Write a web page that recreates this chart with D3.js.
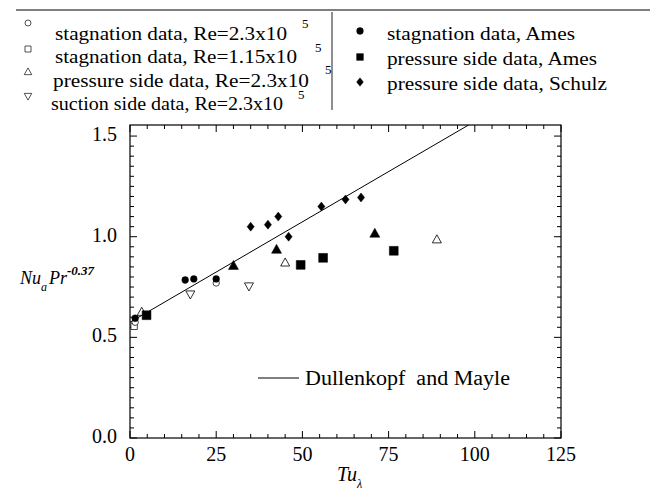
<!DOCTYPE html>
<html><head><meta charset="utf-8">
<script src="https://cdn.jsdelivr.net/npm/d3@7"></script>
<style>body{margin:0;background:#fff}svg{display:block}</style>
</head><body>
<svg id="c" width="650" height="491" font-family="Liberation Serif, DejaVu Serif, Times New Roman, serif"></svg>
<script>
// ---- data (Tu_lambda, Nu_a Pr^-0.37) ----
const stagOpen23 = [[1.5, 0.575], [25, 0.77]];          // open circle
const stagOpen115 = [[1.2, 0.555]];                      // open square
const pressOpen23 = [[3.4, 0.625], [45, 0.87], [89, 0.985]]; // open triangle up
const suctOpen23 = [[17.5, 0.715], [34.5, 0.755]];       // open triangle down
const stagAmes = [[1.5, 0.595], [16, 0.785], [18.5, 0.79], [25, 0.79]]; // filled circle
const pressAmes = [[4.8, 0.61], [49.5, 0.86], [56, 0.895], [76.5, 0.93]]; // filled square
const pressSchulz = [[35, 1.05], [40, 1.06], [43, 1.10], [46, 1.00], [55.5, 1.15], [62.5, 1.185], [67, 1.195]]; // filled diamond
const extraFilledTri = [[30, 0.855], [42.5, 0.935], [71, 1.015]]; // filled triangle (not in legend)
const correlation = [[0, 0.575], [98.5, 1.558]];         // Dullenkopf and Mayle
const xTicks = [0, 25, 50, 75, 100, 125];
const yTicks = [0.0, 0.5, 1.0, 1.5];
const yTickLabels = ["0.0", "0.5", "1.0", "1.5"];
const legendLeft = [
  ["circle", false, "stagnation data, Re=2.3x10"],
  ["square", false, "stagnation data, Re=1.15x10"],
  ["triUp", false, "pressure side data, Re=2.3x10"],
  ["triDown", false, "suction side data, Re=2.3x10"]
];
const legendRight = [
  ["circle", true, "stagnation data, Ames"],
  ["square", true, "pressure side data, Ames"],
  ["diamond", true, "pressure side data, Schulz"]
];

// ---- layout ----
const svg = d3.select("#c");
const L = 130, R = 561, B = 438, T = 125;
const x = d3.scaleLinear().domain([0, 125]).range([L, R]);
const y = d3.scaleLinear().domain([0, 1.555]).range([B, T]);

function symbolPath(type) {
  switch (type) {
    case "circle": return d3.symbol(d3.symbolCircle, 50)();
    case "square": return d3.symbol(d3.symbolSquare, 64)();
    case "diamond": return "M0,-5L4,0L0,5L-4,0Z";
    case "triUp": return "M0,-5.5L5,3.5L-5,3.5Z";
    case "triDown": return "M0,5.5L5,-3.5L-5,-3.5Z";
  }
}
function drawMarker(g, type, filled, cx, cy, scale) {
  const s = scale || 1;
  g.append("path").attr("d", symbolPath(type))
    .attr("transform", `translate(${cx},${cy}) scale(${s})`)
    .attr("fill", filled ? "#000" : "#fff")
    .attr("stroke", "#000").attr("stroke-width", filled ? 0.5 : 0.9);
}

// top rule
svg.append("line").attr("x1", 16).attr("x2", 650).attr("y1", 10).attr("y2", 10)
  .attr("stroke", "#555").attr("stroke-width", 1.3);
// separator
svg.append("line").attr("x1", 332).attr("x2", 332).attr("y1", 12).attr("y2", 110)
  .attr("stroke", "#444").attr("stroke-width", 1.2);

// legend left
const lg = svg.append("g");
const leftBase = [40, 63, 87, 110];
const leftTextX = [55, 55, 53, 51];
const leftTextW = [232, 242, 256, 232];
const leftMarkY = [23, 49, 72, 96];
const supX = [302, 315, 325, 298];
const supY = [28, 52, 74, 99];
legendLeft.forEach((d, i) => {
  drawMarker(lg, d[0], d[1], 28, leftMarkY[i], 0.75);
  lg.append("text").attr("x", leftTextX[i]).attr("y", leftBase[i])
    .attr("font-size", 19).attr("textLength", leftTextW[i]).attr("lengthAdjust", "spacingAndGlyphs").text(d[2]);
  lg.append("text").attr("x", supX[i]).attr("y", supY[i])
    .attr("font-size", 13).text("5");
});
const rightBase = [40, 65, 90];
const rightTextW = [188, 210, 220];
const rightMarkY = [31, 57, 82];
legendRight.forEach((d, i) => {
  drawMarker(lg, d[0], d[1], 360, rightMarkY[i], 0.85);
  lg.append("text").attr("x", 387).attr("y", rightBase[i])
    .attr("font-size", 19).attr("textLength", rightTextW[i]).attr("lengthAdjust", "spacingAndGlyphs").text(d[2]);
});

// plot frame
svg.append("rect").attr("x", L).attr("y", T).attr("width", R - L).attr("height", B - T)
  .attr("fill", "none").attr("stroke", "#000").attr("stroke-width", 1.2);

// ticks
const tg = svg.append("g").attr("stroke", "#000").attr("stroke-width", 1);
d3.range(0, 126, 5).forEach(v => {
  const len = v % 25 === 0 ? 7 : 4;
  tg.append("line").attr("x1", x(v)).attr("x2", x(v)).attr("y1", B).attr("y2", B - len);
  tg.append("line").attr("x1", x(v)).attr("x2", x(v)).attr("y1", T).attr("y2", T + len);
});
d3.range(0, 31).map(i => i * 0.05).forEach((v, i) => {
  const len = i % 10 === 0 ? 7 : 4;
  tg.append("line").attr("x1", L).attr("x2", L + len).attr("y1", y(v)).attr("y2", y(v));
  tg.append("line").attr("x1", R).attr("x2", R - len).attr("y1", y(v)).attr("y2", y(v));
});

// tick labels
xTicks.forEach(v => {
  svg.append("text").attr("x", x(v)).attr("y", 461).attr("text-anchor", "middle")
    .attr("font-size", 20).text(v);
});
yTicks.forEach((v, i) => {
  svg.append("text").attr("x", 117).attr("y", y(v) + 5).attr("text-anchor", "end")
    .attr("font-size", 20).text(yTickLabels[i]);
});

// axis titles
const xt = svg.append("text").attr("x", 337).attr("y", 481)
  .attr("font-size", 20).attr("font-style", "italic");
xt.append("tspan").text("Tu");
xt.append("tspan").attr("dy", 7).attr("font-size", 12).text("λ");

const yt = svg.append("text").attr("x", 20).attr("y", 284)
  .attr("font-size", 18).attr("font-style", "italic");
yt.append("tspan").text("Nu");
yt.append("tspan").attr("dy", 7).attr("font-size", 12).text("a");
yt.append("tspan").attr("dy", -7).attr("dx", 2).text("Pr");
yt.append("tspan").attr("dy", -9).attr("font-size", 13).attr("font-weight", "bold").text("-0.37");

// correlation line
svg.append("defs").append("clipPath").attr("id", "clip")
  .append("rect").attr("x", L).attr("y", T).attr("width", R - L).attr("height", B - T);
svg.append("path").datum(correlation)
  .attr("d", d3.line().x(d => x(d[0])).y(d => y(d[1])))
  .attr("clip-path", "url(#clip)")
  .attr("fill", "none").attr("stroke", "#000").attr("stroke-width", 1);

// data markers
const pg = svg.append("g");
const series = [
  [stagOpen115, "square", false, 0.8],
  [stagOpen23, "circle", false, 0.8],
  [pressOpen23, "triUp", false, 0.9],
  [suctOpen23, "triDown", false, 0.9],
  [stagAmes, "circle", true, 0.85],
  [pressAmes, "square", true, 1.1],
  [pressSchulz, "diamond", true, 0.9],
  [extraFilledTri, "triUp", true, 1.0]
];
series.forEach(([data, type, filled, s]) => {
  data.forEach(d => drawMarker(pg, type, filled, x(d[0]), y(d[1]), s));
});

// in-plot legend
svg.append("line").attr("x1", 258).attr("x2", 299).attr("y1", 378).attr("y2", 378)
  .attr("stroke", "#000").attr("stroke-width", 1);
svg.append("text").attr("x", 305).attr("y", 385)
  .attr("font-size", 20).style("white-space", "pre")
  .attr("textLength", 205).attr("lengthAdjust", "spacingAndGlyphs")
  .text("Dullenkopf  and Mayle");
</script>
</body></html>
